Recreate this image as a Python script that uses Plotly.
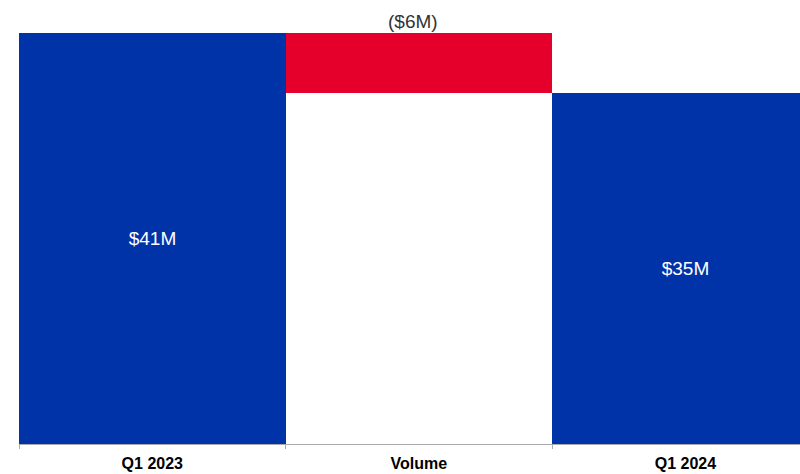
import plotly.graph_objects as go

# Revenue bridge, $M
categories = ["Q1 2023", "Volume", "Q1 2024"]
values = [41, -6, 35]
measures = ["absolute", "relative", "total"]
value_labels = ["$41M", "($6M)", "$35M"]

BLUE = "#0033A8"
RED = "#E4002B"
FONT = "Liberation Sans, Arial"

# Running level before each step, used to place the step labels above the bars
levels = []
running = 0
for v, m in zip(values, measures):
    if m == "absolute":
        running = v
        levels.append(v)
    elif m == "relative":
        levels.append(max(running, running + v))
        running += v
    else:
        levels.append(running)

fig = go.Figure(
    go.Waterfall(
        x=categories,
        y=values,
        measure=measures,
        text=[lab if m != "relative" else "" for lab, m in zip(value_labels, measures)],
        textinfo="text",
        textposition="inside",
        insidetextanchor="middle",
        insidetextfont=dict(family=FONT, size=19, color="white"),
        cliponaxis=False,
        increasing=dict(marker=dict(color=BLUE)),
        decreasing=dict(marker=dict(color=RED)),
        totals=dict(marker=dict(color=BLUE)),
        connector=dict(visible=False),
        hoverinfo="skip",
    )
)

# Step labels sit just above the top of each change bar
for cat, lab, m, lvl in zip(categories, value_labels, measures, levels):
    if m == "relative":
        fig.add_annotation(
            x=cat, y=lvl, text=lab, showarrow=False,
            xanchor="center", yanchor="bottom", xshift=-6, yshift=-1,
            font=dict(family=FONT, size=19, color="#333333"),
        )

fig.update_layout(
    width=800,
    height=474,
    margin=dict(l=19, r=0, t=33, b=30),
    paper_bgcolor="white",
    plot_bgcolor="white",
    waterfallgap=0,
    showlegend=False,
    font=dict(family=FONT, color="#000000"),
)

fig.update_xaxes(
    range=[-0.5, 2.43],
    showline=True,
    linecolor="#AAAAAA",
    linewidth=1,
    ticks="outside",
    tickson="boundaries",
    ticklen=4,
    tickcolor="#AAAAAA",
    ticklabelstandoff=5,
    showgrid=False,
    tickfont=dict(family=FONT, size=16, color="#000000", weight="bold"),
)

fig.update_yaxes(
    range=[0, 41],
    visible=False,
    showgrid=False,
    zeroline=False,
)

fig.write_html("out.html")
